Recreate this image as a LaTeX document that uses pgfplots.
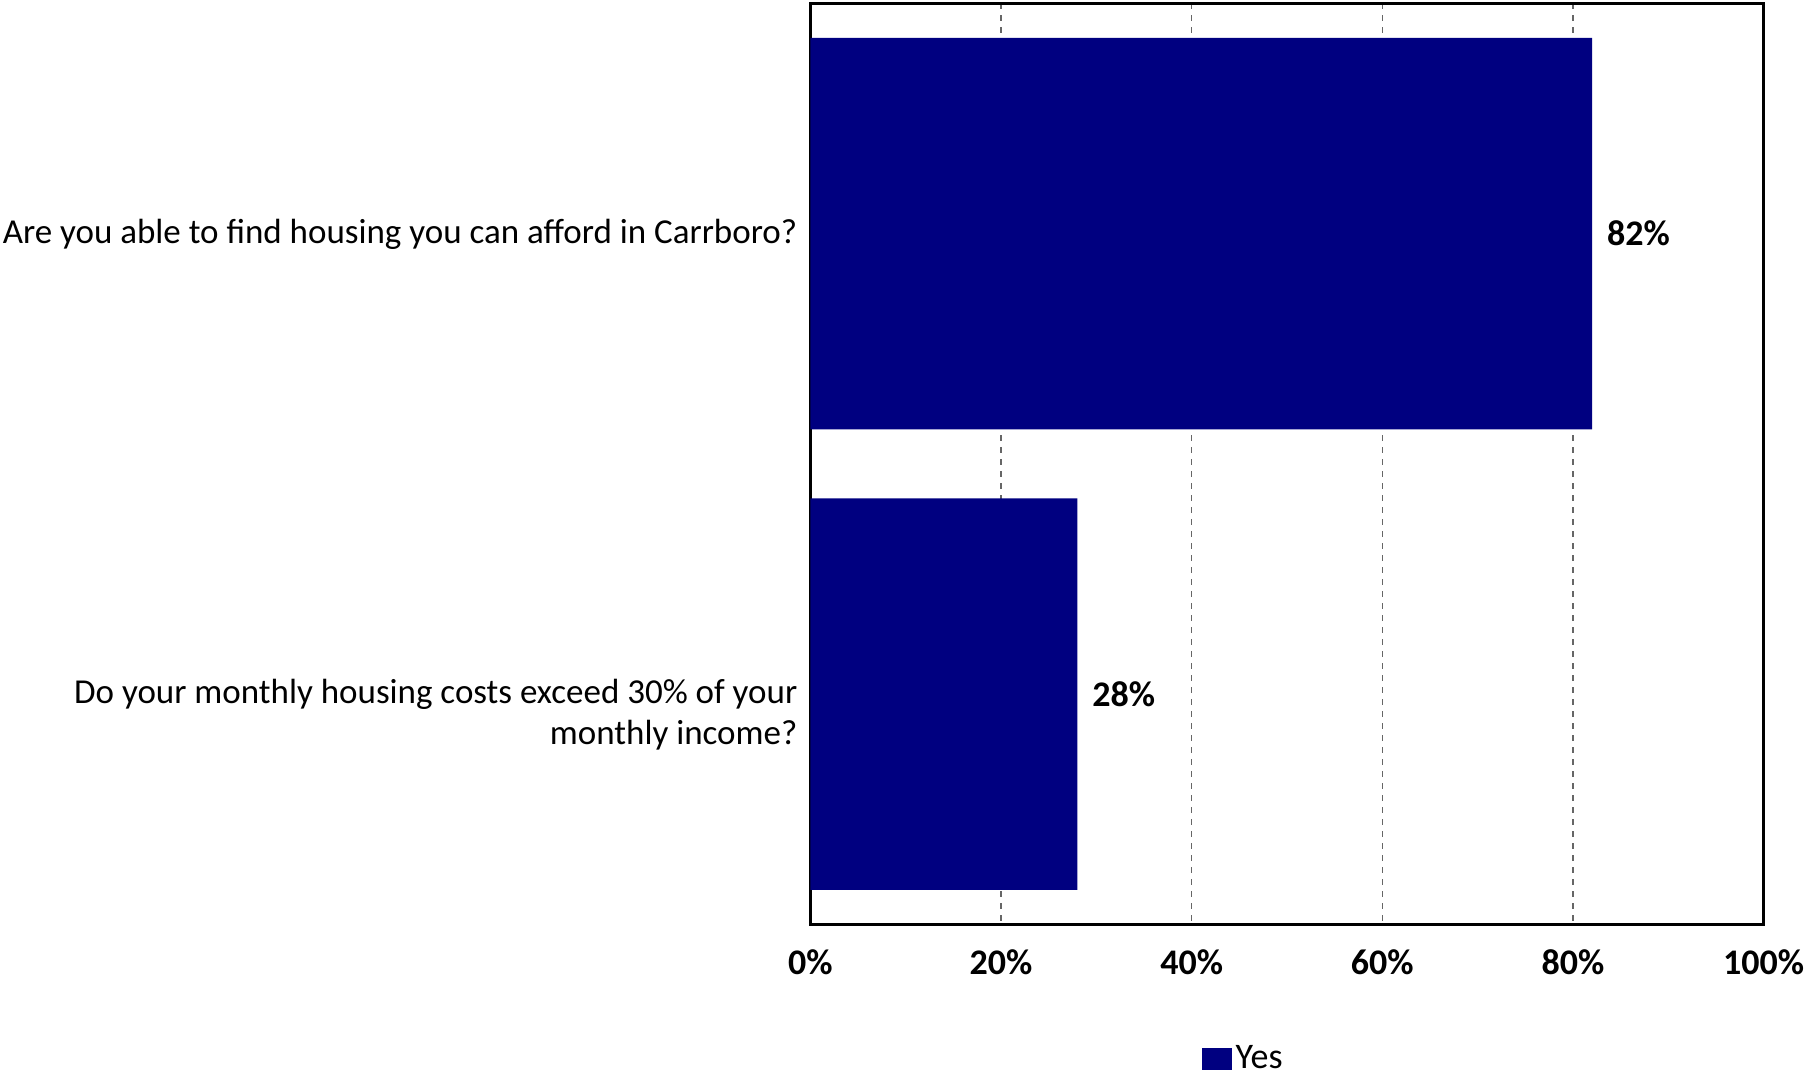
\documentclass[border=0pt]{standalone}
\usepackage{pgfplots}
\pgfplotsset{compat=1.18}
\usepackage{fontspec}
\setmainfont{Carlito}
\definecolor{barnavy}{HTML}{000080}
\begin{document}
\begin{tikzpicture}
\path[use as bounding box] (0,0) rectangle (902.5pt,537.5pt);
\begin{axis}[
  at={(405.2pt,75.3pt)}, anchor=south west,
  scale only axis, width=476.6pt, height=460.5pt,
  xbar, bar width=0.85,
  xmin=0, xmax=100, ymin=-0.5, ymax=1.5,
  y dir=reverse,
  ytick={0,1},
  yticklabels={{Are you able to find housing you can afford in Carrboro?},{Do your monthly housing costs exceed 30\% of your\\monthly income?}},
  yticklabel style={align=right, font=\fontsize{17.5}{20.5}\selectfont, anchor=north east, yshift=10.8pt, xshift=-3pt},
  xtick={0,20,40,60,80,100},
  xticklabels={0\%,20\%,40\%,60\%,80\%,100\%},
  xticklabel style={font=\bfseries\fontsize{18}{21}\selectfont, yshift=-9pt},
  major tick length=0pt,
  xmajorgrids, grid style={dashed, gray!80!black, line width=0.6pt},
  axis line style={line width=1.3pt},
  nodes near coords={\pgfmathprintnumber[assume math mode=true]{\pgfplotspointmeta}\%},
  nodes near coords style={font=\bfseries\fontsize{18}{21}\selectfont, black, xshift=4pt},
  legend style={at={(0.455,-0.146)}, anchor=center, draw=none, font=\fontsize{18}{21}\selectfont},
  legend image code/.code={\fill[#1] (0pt,-5.5pt) rectangle (15pt,5.5pt);},
]
\addplot[fill=barnavy, draw=none] coordinates {(82,0) (28,1)};
\addlegendentry{Yes}
\end{axis}
\end{tikzpicture}
\end{document}
